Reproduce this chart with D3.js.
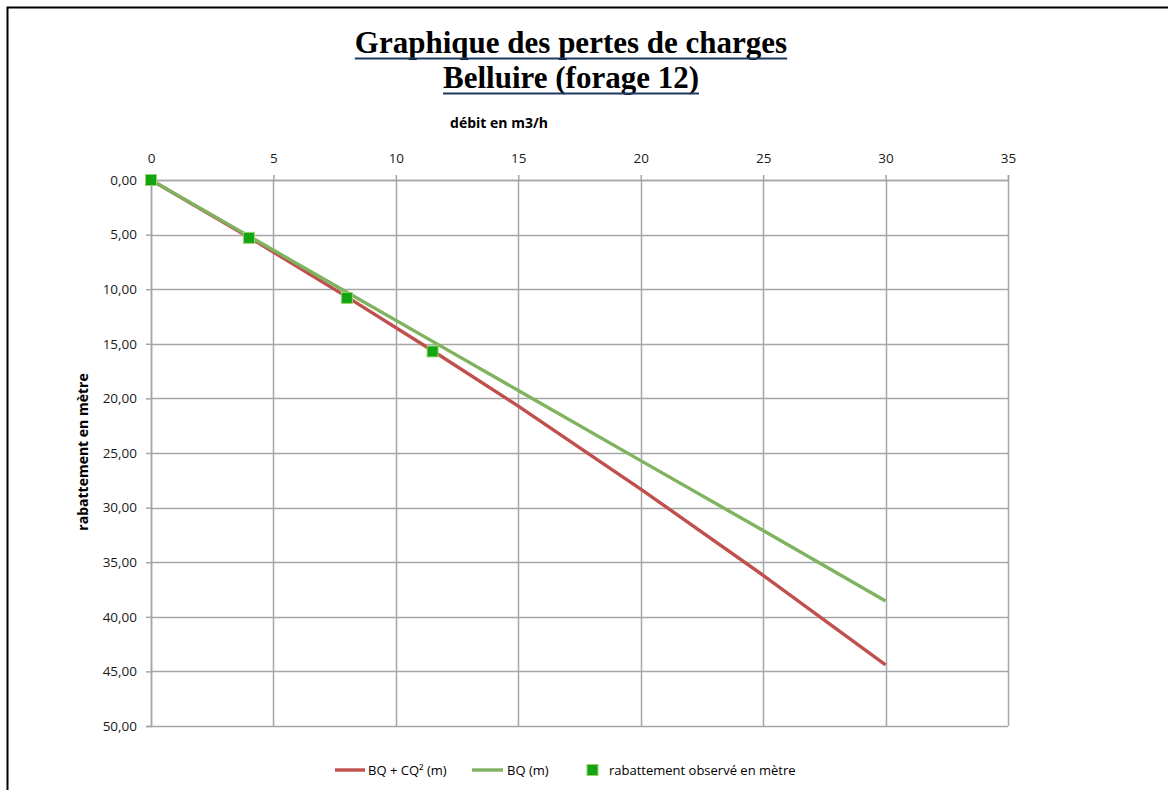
<!DOCTYPE html>
<html>
<head>
<meta charset="utf-8">
<script src="https://cdn.jsdelivr.net/npm/d3@7"></script>
<style>
  body { margin: 0; background: #fff; }
  svg { display: block; }
</style>
</head>
<body>
<svg width="1168" height="790"></svg>
<script>
// données
const debits = [0, 4, 8, 11.5, 15, 20, 25, 30];
const bqcq2 = [0, 5.24, 10.7, 15.64, 20.7, 28.3, 36.2, 44.4];
const bq = [0, 5.14, 10.28, 14.78, 19.28, 25.7, 32.1, 38.55];
const obsDebit = [0, 4, 8, 11.5];
const obsRabattement = [0, 5.3, 10.8, 15.7];
const xTicks = [0, 5, 10, 15, 20, 25, 30, 35];
const yTicks = [0, 5, 10, 15, 20, 25, 30, 35, 40, 45, 50];

const svg = d3.select("svg");
const margin = { top: 180, left: 151, right: 160, bottom: 64 };
const width = 1168 - margin.left - margin.right;
const height = 790 - margin.top - margin.bottom;
const font = "'Open Sans', Lato, sans-serif";

// cadre
svg.append("rect")
  .attr("x", 7.5).attr("y", 7.5)
  .attr("width", 1200).attr("height", 900)
  .attr("fill", "none").attr("stroke", "#000").attr("stroke-width", 2);

const chart = svg.append("g").attr("transform", `translate(${margin.left},${margin.top})`);

const x = d3.scaleLinear().domain([0, 35]).range([0, width]);
const y = d3.scaleLinear().domain([0, 50]).range([0, height]);

// grille
chart.append("g")
  .selectAll("line")
  .data(yTicks)
  .join("line")
  .attr("x1", 0).attr("x2", width)
  .attr("y1", d => Math.round(y(d)) + 0.5).attr("y2", d => Math.round(y(d)) + 0.5)
  .attr("stroke", "#a6a6a6").attr("stroke-width", 1.5);
chart.append("g")
  .selectAll("line")
  .data(xTicks)
  .join("line")
  .attr("y1", 0).attr("y2", height)
  .attr("x1", d => Math.round(x(d)) + 0.5).attr("x2", d => Math.round(x(d)) + 0.5)
  .attr("stroke", "#a6a6a6").attr("stroke-width", 1.5);

// axes
const xAxis = chart.append("g")
  .call(d3.axisTop(x).tickValues(xTicks).tickSize(5).tickPadding(12).tickFormat(d3.format("d")));
const yAxis = chart.append("g")
  .call(d3.axisLeft(y).tickValues(yTicks).tickSize(5).tickPadding(9).tickFormat(d => d3.format(".2f")(d).replace(".", ",")));
[xAxis, yAxis].forEach(a => {
  a.select(".domain").attr("stroke", "#a6a6a6").attr("stroke-width", 1.5);
  a.selectAll(".tick line").attr("stroke", "#a6a6a6").attr("stroke-width", 1.5);
  a.selectAll("text").attr("fill", "#1a1a1a").style("font-family", font).style("font-size", "13.5px");
});

// courbes
const line = d3.line().x(d => x(d[0])).y(d => y(d[1]));
chart.append("path")
  .datum(debits.map((q, i) => [q, bqcq2[i]]))
  .attr("d", line)
  .attr("fill", "none").attr("stroke", "#c0504d").attr("stroke-width", 3.4);
chart.append("path")
  .datum(debits.map((q, i) => [q, bq[i]]))
  .attr("d", line)
  .attr("fill", "none").attr("stroke", "#7fb35f").attr("stroke-width", 3.4);

// points observés
chart.selectAll(".obs")
  .data(obsDebit.map((q, i) => [q, obsRabattement[i]]))
  .join("rect")
  .attr("x", d => x(d[0]) - 5.5).attr("y", d => y(d[1]) - 5.5)
  .attr("width", 11).attr("height", 11)
  .attr("fill", "#14a514").attr("stroke", "#9bd16a").attr("stroke-width", 1);

// titre
const titre = ["Graphique des pertes de charges", "Belluire (forage 12)"];
titre.forEach((t, i) => {
  const txt = svg.append("text")
    .attr("x", 571).attr("y", 53 + i * 35)
    .attr("text-anchor", "middle")
    .style("font-family", "'Liberation Serif', 'Times New Roman', serif")
    .style("font-weight", "bold")
    .style("font-size", "31px")
    .attr("fill", "#000")
    .text(t);
  const w = txt.node().getComputedTextLength();
  svg.append("line")
    .attr("x1", 571 - w / 2).attr("x2", 571 + w / 2)
    .attr("y1", 58.5 + i * 35).attr("y2", 58.5 + i * 35)
    .attr("stroke", "#1f3864").attr("stroke-width", 2);
});

// titres des axes
svg.append("text")
  .attr("x", 499).attr("y", 128)
  .attr("text-anchor", "middle")
  .style("font-family", font).style("font-weight", "bold").style("font-size", "14px")
  .text("débit en m3/h");
svg.append("text")
  .attr("transform", "translate(88,452) rotate(-90)")
  .attr("text-anchor", "middle")
  .style("font-family", font).style("font-weight", "bold").style("font-size", "14px")
  .text("rabattement en mètre");

// légende
const legend = svg.append("g").attr("transform", "translate(0,770)");
legend.append("line").attr("x1", 335).attr("x2", 365).attr("y1", 0).attr("y2", 0)
  .attr("stroke", "#c0504d").attr("stroke-width", 3.4);
legend.append("text").attr("x", 368).attr("y", 4.5)
  .style("font-family", font).style("font-size", "13px")
  .text("BQ + CQ² (m)");
legend.append("line").attr("x1", 472).attr("x2", 503).attr("y1", 0).attr("y2", 0)
  .attr("stroke", "#7fb35f").attr("stroke-width", 3.4);
legend.append("text").attr("x", 507).attr("y", 4.5)
  .style("font-family", font).style("font-size", "13px")
  .text("BQ (m)");
legend.append("rect").attr("x", 587).attr("y", -5.5).attr("width", 11).attr("height", 11)
  .attr("fill", "#14a514").attr("stroke", "#9bd16a");
legend.append("text").attr("x", 609).attr("y", 4.5)
  .style("font-family", font).style("font-size", "13px")
  .text("rabattement  observé en mètre");
</script>
</body>
</html>
